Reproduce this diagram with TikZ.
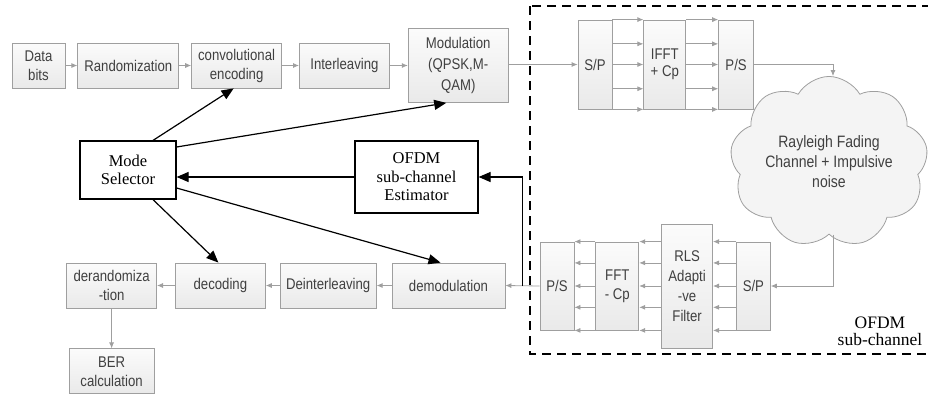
\documentclass[tikz,border=0pt]{standalone}
\usepackage{fontspec}
\setmainfont{Liberation Serif}
\setsansfont{Liberation Sans}[FakeStretch=0.85]
\usepackage{tikz}
\usetikzlibrary{positioning}
\usetikzlibrary{arrows.meta}
\usetikzlibrary{shapes.symbols}
\usetikzlibrary{calc}

\begin{document}
\begin{tikzpicture}[x=1pt,y=-1pt]
  \tikzset{Block/.style={rectangle, draw=gray!75, line width=0.8pt, top color=gray!3, bottom color=gray!17, text=black!75, font=\sffamily\fontsize{15.5}{19}\selectfont, align=center, inner sep=0pt, minimum height=45pt}};
  \tikzset{Stage/.style={Block, minimum height=89pt}};
  \tikzset{Ctrl/.style={rectangle, draw, line width=1.2pt, fill=white, font=\fontsize{16.5}{18.5}\selectfont, align=center, inner sep=0pt}};
  \tikzset{Cloud/.style={cloud, cloud puffs=9, cloud puff arc=120, aspect=1.25, draw=gray!75, line width=0.8pt, fill=gray!9, text=black!75, font=\sffamily\fontsize{16.5}{20}\selectfont, align=center, inner sep=0pt, minimum width=188pt, minimum height=150pt}};
  \tikzset{Arr/.style={draw=gray!75, line width=0.8pt, -{Latex[length=6pt,width=5pt]}}};
  \tikzset{Ctl/.style={draw=black, line width=1.2pt, -{Triangle[length=12pt,width=10pt]}}};
  \useasboundingbox (0,0) rectangle (928,394);
  \clip (0,0) rectangle (928,394);
  % OFDM sub-channel frame
  \draw[line width=1.2pt, dash pattern=on 9pt off 6pt] (530,6) rectangle (945,354);
  \node[font=\fontsize{17.5}{17}\selectfont, align=center] (lbl) at (880,331) {OFDM\\sub-channel};
  % transmitter
  \node[Block, minimum width=53pt] (data) at (38.5,65.5) {Data\\bits};
  \node[Block, minimum width=101pt][right=12pt of data] (rand) {Randomization};
  \node[Block, minimum width=90pt][right=12pt of rand] (conv) {convolutional\\encoding};
  \node[Block, minimum width=90pt][right=17pt of conv] (inter) {Interleaving};
  \node[Block, minimum width=100pt, minimum height=74pt, font=\sffamily\fontsize{15.5}{21}\selectfont][right=18pt of inter] (mod) {Modulation\\(QPSK,M-\\QAM)};
  \node[Stage, minimum width=34pt] (sp1) at (595,64.5) {S/P};
  \node[Stage, minimum width=42pt, font=\sffamily\fontsize{15.5}{17.5}\selectfont][right=31pt of sp1] (ifft) {IFFT\\+ Cp};
  \node[Stage, minimum width=35pt][right=32pt of ifft] (ps1) {P/S};
  \node[Cloud] (cloud) at (829,162) {Rayleigh Fading\\Channel + Impulsive\\noise};
  % receiver
  \node[Stage, minimum width=34pt, minimum height=88pt] (ps2) at (557,286) {P/S};
  \node[Stage, minimum width=43pt, minimum height=88pt][right=21pt of ps2] (fft) {FFT\\- Cp};
  \node[Stage, minimum width=51pt, minimum height=124pt, font=\sffamily\fontsize{15.5}{20}\selectfont][right=22pt of fft] (rls) {RLS\\Adapti\\-ve\\Filter};
  \node[Stage, minimum width=34pt, minimum height=88pt][right=23pt of rls] (sp2) {S/P};
  \node[Block, minimum width=113pt] (demod) at (448.5,285.5) {demodulation};
  \node[Block, minimum width=96pt][left=15pt of demod] (deint) {Deinterleaving};
  \node[Block, minimum width=90pt][left=14pt of deint] (dec) {decoding};
  \node[Block, minimum width=90pt][left=18pt of dec] (derand) {derandomiza\\-tion};
  \node[Block, minimum width=85pt][below=40pt of derand] (ber) {BER\\calculation};
  % control
  \node[Ctrl, minimum width=96pt, minimum height=58pt] (mode) at (128,170) {Mode\\Selector};
  \node[Ctrl, minimum width=123pt, minimum height=72pt] (est) at (416.5,177) {OFDM\\sub-channel\\Estimator};
  \coordinate[right=17pt of demod] (tap);
  \draw[Arr] (data) -- (rand);
  \draw[Arr] (rand) -- (conv);
  \draw[Arr] (conv) -- (inter);
  \draw[Arr] (inter) -- (mod);
  \draw[Arr] (mod.east |- sp1.west) -- (sp1.west);
  \foreach \f in {0,0.27,0.5,0.77,1} {
    \draw[Arr] ($(sp1.north east)!\f!(sp1.south east)$) -- ($(ifft.north west)!\f!(ifft.south west)$);
    \draw[Arr] ($(ifft.north east)!\f!(ifft.south east)$) -- ($(ps1.north west)!\f!(ps1.south west)$);
  }
  \draw[Arr] (ps1.east) -| ([xshift=4pt]cloud.north);
  \draw[Arr] ([xshift=4pt]cloud.south) |- (sp2.east);
  \foreach \f [count=\i] in {0,0.24,0.5,0.74,1} {
    \coordinate (p\i) at ($(fft.north east)!\f!(fft.south east)$);
    \draw[Arr] ($(sp2.north west)!\f!(sp2.south west)$) -- (p\i -| rls.east);
    \draw[Arr] (p\i -| rls.west) -- (p\i);
    \draw[Arr] ($(fft.north west)!\f!(fft.south west)$) -- ($(ps2.north east)!\f!(ps2.south east)$);
  }
  \draw[Arr] (ps2.west) -- (demod.east);
  \draw[Arr] (demod) -- (deint);
  \draw[Arr] (deint) -- (dec);
  \draw[Arr] (dec) -- (derand);
  \draw[Arr] (derand) -- (ber);
  \draw[Ctl] (tap) |- (est.east);
  \draw[Ctl] (est.west) -- (est.west -| mode.east);
  \draw[Ctl] ([xshift=25pt]mode.north) -- ([xshift=-3pt]conv.south);
  \draw[Ctl] ([yshift=23pt]mode.east) -- ([xshift=-12pt]mod.south);
  \draw[Ctl] ([xshift=25pt]mode.south) -- ([xshift=-2pt]dec.north);
  \draw[Ctl] ([yshift=-18pt]mode.east) -- ([xshift=-8pt]demod.north);
\end{tikzpicture}
\end{document}
